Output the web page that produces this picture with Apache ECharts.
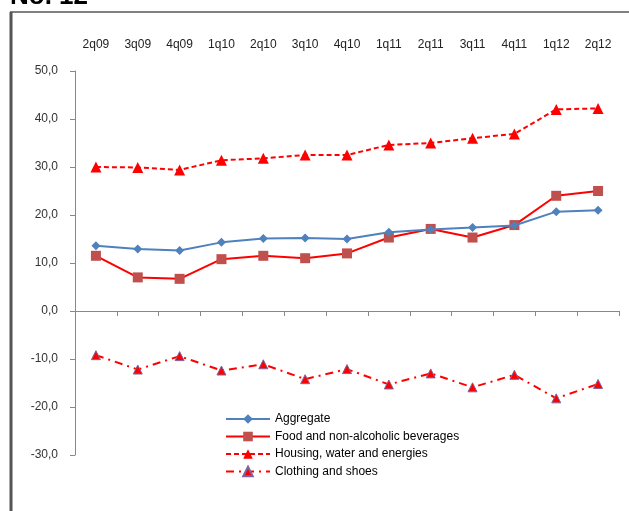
<!DOCTYPE html>
<html>
<head>
<meta charset="utf-8">
<script src="https://cdn.jsdelivr.net/npm/echarts@6/dist/echarts.min.js"></script>
<style>
  html, body { margin: 0; padding: 0; background: #fff; }
  #chart { width: 629px; height: 511px; }
</style>
</head>
<body>
<div id="chart"></div>
<script>
const quarters = ['2q09', '3q09', '4q09', '1q10', '2q10', '3q10', '4q10', '1q11', '2q11', '3q11', '4q11', '1q12', '2q12']
const aggregate = [13.6, 12.9, 12.6, 14.3, 15.1, 15.2, 15.0, 16.4, 17.0, 17.4, 17.8, 20.7, 21.0]
const food = [11.5, 7.0, 6.7, 10.8, 11.5, 11.0, 12.0, 15.3, 17.1, 15.3, 17.9, 24.0, 25.0]
const housing = [30.0, 29.9, 29.4, 31.4, 31.8, 32.5, 32.5, 34.6, 35.0, 36.0, 36.9, 42.0, 42.2]
const clothing = [-9.2, -12.2, -9.4, -12.4, -11.1, -14.2, -12.1, -15.3, -13.0, -15.9, -13.3, -18.2, -15.2]

const font = 'Arial, "Liberation Sans", sans-serif'
const chart = echarts.init(document.getElementById('chart'))

chart.setOption({
  animation: false,
  textStyle: { fontFamily: font },
  graphic: [
    {
      type: 'text',
      left: 10,
      top: -16,
      style: { text: 'No. 12', font: 'bold 26px ' + font, fill: '#000' }
    },
    {
      type: 'line',
      shape: { x1: 10, y1: 12, x2: 629, y2: 12 },
      style: { stroke: '#808080', lineWidth: 2 }
    },
    {
      type: 'line',
      shape: { x1: 11, y1: 12, x2: 11, y2: 511 },
      style: { stroke: '#555', lineWidth: 3 }
    }
  ],
  grid: { left: 75, right: 10, top: 71, bottom: 56 },
  legend: {
    orient: 'vertical',
    left: 220,
    top: 408,
    itemWidth: 44,
    itemHeight: 12,
    itemGap: 5.5,
    textStyle: { fontSize: 12, color: '#000', fontFamily: font },
    data: ['Aggregate', 'Food and non-alcoholic beverages', 'Housing, water and energies', 'Clothing and shoes']
  },
  xAxis: [
    {
      type: 'category',
      data: quarters,
      position: 'bottom',
      axisLine: { onZero: true, lineStyle: { color: '#888', width: 1 } },
      axisTick: { show: true, length: 5, inside: false, lineStyle: { color: '#888' } },
      axisLabel: { show: false }
    },
    {
      type: 'category',
      data: quarters,
      position: 'top',
      axisLine: { show: false, onZero: false },
      axisTick: { show: false },
      axisLabel: { margin: 20, fontSize: 12, color: '#222', fontFamily: font }
    }
  ],
  yAxis: {
    type: 'value',
    min: -30,
    max: 50,
    interval: 10,
    splitLine: { show: false },
    axisLine: { show: true, lineStyle: { color: '#888' } },
    axisTick: { show: true, length: 5, lineStyle: { color: '#888' } },
    axisLabel: {
      margin: 17,
      fontSize: 12,
      color: '#333',
      fontFamily: font,
      formatter: v => v.toFixed(1).replace('.', ',')
    }
  },
  series: [
    {
      name: 'Aggregate',
      type: 'line',
      data: aggregate,
      symbol: 'diamond',
      symbolSize: 9,
      lineStyle: { color: '#4f81bd', width: 2 },
      itemStyle: { color: '#4f81bd' },
      z: 4
    },
    {
      name: 'Food and non-alcoholic beverages',
      type: 'line',
      data: food,
      symbol: 'rect',
      symbolSize: 10,
      lineStyle: { color: '#ff0000', width: 2 },
      itemStyle: { color: '#c0504d' },
      z: 3
    },
    {
      name: 'Housing, water and energies',
      type: 'line',
      data: housing,
      symbol: 'triangle',
      symbolSize: 11,
      lineStyle: { color: '#ff0000', width: 2, type: [5, 3] },
      itemStyle: { color: '#ff0000' }
    },
    {
      name: 'Clothing and shoes',
      type: 'line',
      data: clothing,
      symbol: 'triangle',
      symbolSize: 9,
      lineStyle: { color: '#ff0000', width: 2, type: [8, 5, 2, 5] },
      itemStyle: { color: '#ff0000', borderColor: '#7e649e', borderWidth: 1 }
    }
  ]
})
</script>
</body>
</html>
